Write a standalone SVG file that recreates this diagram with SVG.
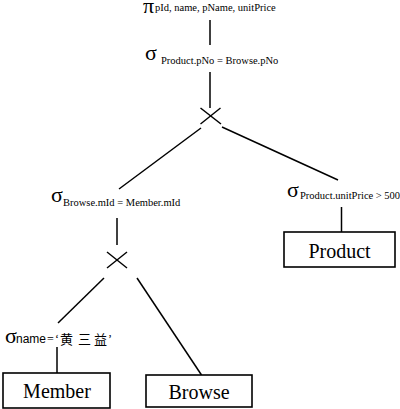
<svg xmlns="http://www.w3.org/2000/svg" width="400" height="409" viewBox="0 0 400 409">
<style>
.g{font-family:"Liberation Serif","Times New Roman",serif;font-size:22px;fill:#000}
.s{font-family:"Liberation Serif","Times New Roman",serif;font-size:10.5px;fill:#000}
.n{font-family:"Liberation Serif","Times New Roman",serif;font-size:20px;fill:#000;text-anchor:middle}
.c{font-family:"Noto Sans CJK SC",sans-serif;font-size:13px;fill:#000}
.box{fill:#fff;stroke:#000;stroke-width:1.6}
.ln{stroke:#000;stroke-width:1.5;fill:none}
</style>
<rect width="400" height="409" fill="#fff"/>
<g id="connectors">
<line class="ln" x1="210" y1="20" x2="210" y2="45"/>
<line class="ln" x1="210" y1="72" x2="210" y2="108"/>
<line class="ln" x1="201" y1="128" x2="119" y2="189"/>
<line class="ln" x1="222" y1="127" x2="338" y2="180"/>
<line class="ln" x1="341.5" y1="207" x2="341.5" y2="232"/>
<line class="ln" x1="117" y1="218" x2="117" y2="245"/>
<line class="ln" x1="104" y1="278" x2="58" y2="323"/>
<line class="ln" x1="137" y1="278" x2="201.5" y2="375"/>
<line class="ln" x1="57" y1="347" x2="57" y2="373"/>
</g>
<g id="project">
<text class="g" x="143" y="13" font-size="21">π</text>
<text class="s" x="155" y="11">pId, name, pName, unitPrice</text>
</g>
<g id="select-join">
<text class="g" x="145" y="60">σ</text>
<text class="s" x="161" y="64">Product.pNo = Browse.pNo</text>
</g>
<g id="cross1">
<line class="ln" x1="200.5" y1="108" x2="221" y2="124"/>
<line class="ln" x1="220.5" y1="108" x2="200.5" y2="124"/>
</g>
<g id="select-browse">
<text class="g" x="51" y="202">σ</text>
<text class="s" x="63" y="206">Browse.mId = Member.mId</text>
</g>
<g id="select-product">
<text class="g" x="287" y="197">σ</text>
<text class="s" x="300" y="199">Product.unitPrice &gt; 500</text>
</g>
<g id="product">
<rect class="box" x="284" y="232" width="111" height="35"/>
<text class="n" x="339.5" y="258">Product</text>
</g>
<g id="cross2">
<line class="ln" x1="107" y1="252" x2="127" y2="268"/>
<line class="ln" x1="127" y1="252" x2="107" y2="268"/>
</g>
<g id="select-name">
<text class="g" x="5" y="343">σ</text>
<text x="16" y="343" font-family="Liberation Sans, Arial, sans-serif" font-size="12">name</text>
<text x="47" y="343" font-family="Liberation Serif, serif" font-size="12">=</text>
<text x="55" y="343" font-family="Liberation Serif, serif" font-size="12">‘</text>
<text class="c" x="60" y="344">黄</text>
<text class="c" x="78" y="344">三</text>
<text class="c" x="94" y="344">益</text>
<text x="108" y="343" font-family="Liberation Serif, serif" font-size="12">’</text>
</g>
<g id="member">
<rect class="box" x="3" y="373" width="107" height="35"/>
<text class="n" x="57" y="398">Member</text>
</g>
<g id="browse">
<rect class="box" x="146" y="375" width="106" height="32"/>
<text class="n" x="199" y="399">Browse</text>
</g>
</svg>
